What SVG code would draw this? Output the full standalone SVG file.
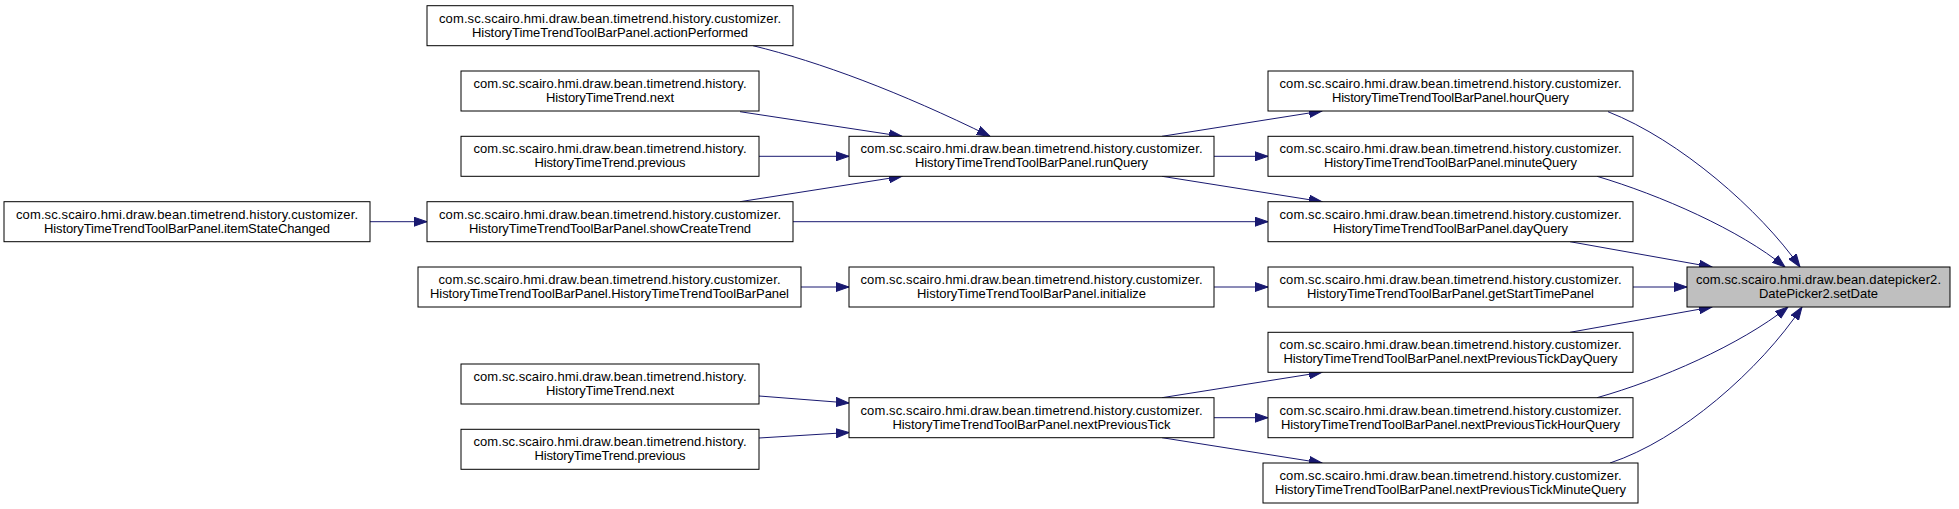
<svg xmlns="http://www.w3.org/2000/svg" width="1959" height="509" viewBox="0 0 1959 509">
<style>
  .node rect { fill: #ffffff; stroke: #000000; stroke-width: 1; }
  .node.hl rect { fill: #bfbfbf; }
  .node text { font-family: "Liberation Sans", Arial, Helvetica, sans-serif; font-size: 13px; fill: #000000; text-anchor: middle; }
  .edges path { fill: none; stroke: #191970; stroke-width: 1; marker-end: url(#arr); }
</style>
<defs>
  <marker id="arr" markerUnits="userSpaceOnUse" markerWidth="14" markerHeight="10" refX="13" refY="5" orient="auto">
    <path d="M0,0.5 L13,5 L0,9.5 z" fill="#191970" stroke="#191970" stroke-width="1"/>
  </marker>
</defs>
<rect width="1959" height="509" fill="#ffffff"/>
<g class="edges">
  <path d="M370,221.7 H427"/>
  <path d="M753,45.7 C820,62 900,92 990,136.3"/>
  <path d="M740,111.7 L902,136.3"/>
  <path d="M759,156.3 H849"/>
  <path d="M740,201.7 L902,176.3"/>
  <path d="M793,221.7 H1268"/>
  <path d="M1162,136.3 L1322,111"/>
  <path d="M1214,156.3 H1268"/>
  <path d="M1162,176.3 L1322,201.7"/>
  <path d="M801,287 H849"/>
  <path d="M1214,287 H1268"/>
  <path d="M759,396 L849,403"/>
  <path d="M759,438 L849,432.5"/>
  <path d="M1162,397.7 L1322,372.3"/>
  <path d="M1214,417.7 H1268"/>
  <path d="M1162,437.7 L1322,463"/>
  <path d="M1608,111.7 C1680,140 1760,210 1800,267"/>
  <path d="M1597,176.3 C1660,195 1740,230 1785,267"/>
  <path d="M1570,241.7 L1712,267"/>
  <path d="M1633,287 H1687"/>
  <path d="M1570,332.3 L1712,307"/>
  <path d="M1597,397.7 C1660,380 1740,345 1788,307"/>
  <path d="M1610,463 C1680,440 1760,370 1802,307"/>
</g>
<g id="n_itemStateChanged" class="node">
  <rect x="4" y="201.7" width="366" height="40"/>
  <text x="187" y="218.7" textLength="342" lengthAdjust="spacing">com.sc.scairo.hmi.draw.bean.timetrend.history.customizer.</text>
  <text x="187" y="232.7" textLength="286" lengthAdjust="spacing">HistoryTimeTrendToolBarPanel.itemStateChanged</text>
</g>
<g id="n_actionPerformed" class="node">
  <rect x="427" y="5.7" width="366" height="40"/>
  <text x="610" y="22.7" textLength="342" lengthAdjust="spacing">com.sc.scairo.hmi.draw.bean.timetrend.history.customizer.</text>
  <text x="610" y="36.7" textLength="276" lengthAdjust="spacing">HistoryTimeTrendToolBarPanel.actionPerformed</text>
</g>
<g id="n_next1" class="node">
  <rect x="461" y="71" width="298" height="40"/>
  <text x="610" y="88" textLength="273" lengthAdjust="spacing">com.sc.scairo.hmi.draw.bean.timetrend.history.</text>
  <text x="610" y="102" textLength="128" lengthAdjust="spacing">HistoryTimeTrend.next</text>
</g>
<g id="n_previous1" class="node">
  <rect x="461" y="136.3" width="298" height="40"/>
  <text x="610" y="153.3" textLength="273" lengthAdjust="spacing">com.sc.scairo.hmi.draw.bean.timetrend.history.</text>
  <text x="610" y="167.3" textLength="151" lengthAdjust="spacing">HistoryTimeTrend.previous</text>
</g>
<g id="n_showCreateTrend" class="node">
  <rect x="427" y="201.7" width="366" height="40"/>
  <text x="610" y="218.7" textLength="342" lengthAdjust="spacing">com.sc.scairo.hmi.draw.bean.timetrend.history.customizer.</text>
  <text x="610" y="232.7" textLength="282" lengthAdjust="spacing">HistoryTimeTrendToolBarPanel.showCreateTrend</text>
</g>
<g id="n_ctor" class="node">
  <rect x="418" y="267" width="383" height="40"/>
  <text x="609.5" y="284" textLength="342" lengthAdjust="spacing">com.sc.scairo.hmi.draw.bean.timetrend.history.customizer.</text>
  <text x="609.5" y="298" textLength="359" lengthAdjust="spacing">HistoryTimeTrendToolBarPanel.HistoryTimeTrendToolBarPanel</text>
</g>
<g id="n_next2" class="node">
  <rect x="461" y="364" width="298" height="40"/>
  <text x="610" y="381" textLength="273" lengthAdjust="spacing">com.sc.scairo.hmi.draw.bean.timetrend.history.</text>
  <text x="610" y="395" textLength="128" lengthAdjust="spacing">HistoryTimeTrend.next</text>
</g>
<g id="n_previous2" class="node">
  <rect x="461" y="429.3" width="298" height="40"/>
  <text x="610" y="446.3" textLength="273" lengthAdjust="spacing">com.sc.scairo.hmi.draw.bean.timetrend.history.</text>
  <text x="610" y="460.3" textLength="151" lengthAdjust="spacing">HistoryTimeTrend.previous</text>
</g>
<g id="n_runQuery" class="node">
  <rect x="849" y="136.3" width="365" height="40"/>
  <text x="1031.5" y="153.3" textLength="342" lengthAdjust="spacing">com.sc.scairo.hmi.draw.bean.timetrend.history.customizer.</text>
  <text x="1031.5" y="167.3" textLength="233" lengthAdjust="spacing">HistoryTimeTrendToolBarPanel.runQuery</text>
</g>
<g id="n_initialize" class="node">
  <rect x="849" y="267" width="365" height="40"/>
  <text x="1031.5" y="284" textLength="342" lengthAdjust="spacing">com.sc.scairo.hmi.draw.bean.timetrend.history.customizer.</text>
  <text x="1031.5" y="298" textLength="229" lengthAdjust="spacing">HistoryTimeTrendToolBarPanel.initialize</text>
</g>
<g id="n_nextPreviousTick" class="node">
  <rect x="849" y="397.7" width="365" height="40"/>
  <text x="1031.5" y="414.7" textLength="342" lengthAdjust="spacing">com.sc.scairo.hmi.draw.bean.timetrend.history.customizer.</text>
  <text x="1031.5" y="428.7" textLength="278" lengthAdjust="spacing">HistoryTimeTrendToolBarPanel.nextPreviousTick</text>
</g>
<g id="n_hourQuery" class="node">
  <rect x="1268" y="71" width="365" height="40"/>
  <text x="1450.5" y="88" textLength="342" lengthAdjust="spacing">com.sc.scairo.hmi.draw.bean.timetrend.history.customizer.</text>
  <text x="1450.5" y="102" textLength="237" lengthAdjust="spacing">HistoryTimeTrendToolBarPanel.hourQuery</text>
</g>
<g id="n_minuteQuery" class="node">
  <rect x="1268" y="136.3" width="365" height="40"/>
  <text x="1450.5" y="153.3" textLength="342" lengthAdjust="spacing">com.sc.scairo.hmi.draw.bean.timetrend.history.customizer.</text>
  <text x="1450.5" y="167.3" textLength="253" lengthAdjust="spacing">HistoryTimeTrendToolBarPanel.minuteQuery</text>
</g>
<g id="n_dayQuery" class="node">
  <rect x="1268" y="201.7" width="365" height="40"/>
  <text x="1450.5" y="218.7" textLength="342" lengthAdjust="spacing">com.sc.scairo.hmi.draw.bean.timetrend.history.customizer.</text>
  <text x="1450.5" y="232.7" textLength="235" lengthAdjust="spacing">HistoryTimeTrendToolBarPanel.dayQuery</text>
</g>
<g id="n_getStartTimePanel" class="node">
  <rect x="1268" y="267" width="365" height="40"/>
  <text x="1450.5" y="284" textLength="342" lengthAdjust="spacing">com.sc.scairo.hmi.draw.bean.timetrend.history.customizer.</text>
  <text x="1450.5" y="298" textLength="287" lengthAdjust="spacing">HistoryTimeTrendToolBarPanel.getStartTimePanel</text>
</g>
<g id="n_nextPreviousTickDayQuery" class="node">
  <rect x="1268" y="332.3" width="365" height="40"/>
  <text x="1450.5" y="349.3" textLength="342" lengthAdjust="spacing">com.sc.scairo.hmi.draw.bean.timetrend.history.customizer.</text>
  <text x="1450.5" y="363.3" textLength="334" lengthAdjust="spacing">HistoryTimeTrendToolBarPanel.nextPreviousTickDayQuery</text>
</g>
<g id="n_nextPreviousTickHourQuery" class="node">
  <rect x="1268" y="397.7" width="365" height="40"/>
  <text x="1450.5" y="414.7" textLength="342" lengthAdjust="spacing">com.sc.scairo.hmi.draw.bean.timetrend.history.customizer.</text>
  <text x="1450.5" y="428.7" textLength="339" lengthAdjust="spacing">HistoryTimeTrendToolBarPanel.nextPreviousTickHourQuery</text>
</g>
<g id="n_nextPreviousTickMinuteQuery" class="node">
  <rect x="1263" y="463" width="375" height="40"/>
  <text x="1450.5" y="480" textLength="342" lengthAdjust="spacing">com.sc.scairo.hmi.draw.bean.timetrend.history.customizer.</text>
  <text x="1450.5" y="494" textLength="351" lengthAdjust="spacing">HistoryTimeTrendToolBarPanel.nextPreviousTickMinuteQuery</text>
</g>
<g id="n_setDate" class="node hl">
  <rect x="1687" y="267" width="263" height="40"/>
  <text x="1818.5" y="284" textLength="245" lengthAdjust="spacing">com.sc.scairo.hmi.draw.bean.datepicker2.</text>
  <text x="1818.5" y="298" textLength="119" lengthAdjust="spacing">DatePicker2.setDate</text>
</g>
</svg>
